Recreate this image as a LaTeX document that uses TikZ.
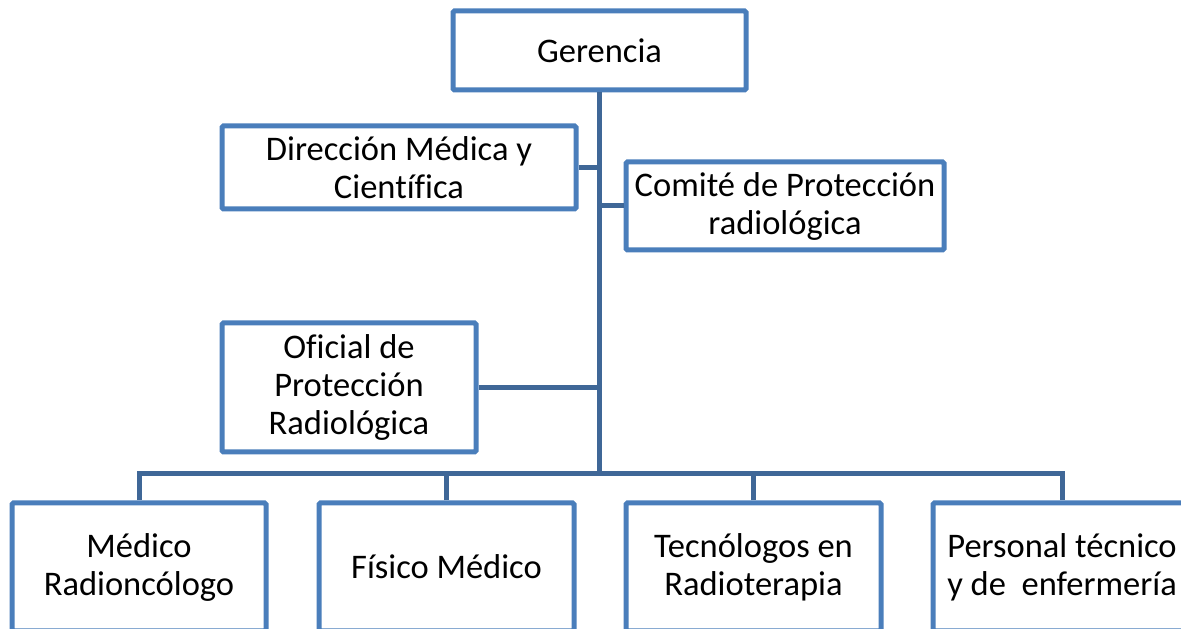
\documentclass[tikz,border=0pt]{standalone}
\usepackage{fontspec}
\setmainfont[Ligatures=NoCommon]{Carlito}
\definecolor{boxblue}{HTML}{4A7EBB}
\definecolor{lineblue}{HTML}{3F6797}
\begin{document}
\begin{tikzpicture}[x=1pt,y=1pt,
  orgbox/.style={draw=boxblue, line width=5pt, fill=white, rounded corners=1.5pt,
    inner sep=0pt, align=center, font=\fontsize{34.5}{38}\selectfont},
  conn/.style={draw=lineblue, line width=5pt}]
\useasboundingbox (0,0) rectangle (1181,629);
\clip (0,0) rectangle (1181,629);
\coordinate (bus) at (599.5,155);
\node[orgbox, minimum width=293, minimum height=79] (ger) at (599.5,578.5) {Gerencia};
\node[orgbox, minimum width=354, minimum height=83] (dir) at (399,461.5) {Dirección Médica y\\Científica};
\node[orgbox, minimum width=318, minimum height=88] (com) at (785,423) {Comité de Protección\\radiológica};
\node[orgbox, minimum width=254, minimum height=129] (ofi) at (349,241.5) {Oficial de\\Protección\\Radiológica};
\node[orgbox, minimum width=254, minimum height=128] (med) at (139,62) {Médico\\Radioncólogo};
\node[orgbox, minimum width=255, minimum height=128] (fis) at (446.5,62) {Físico Médico};
\node[orgbox, minimum width=255, minimum height=128] (tec) at (753.5,62) {Tecnólogos en\\Radioterapia};
\node[orgbox, minimum width=258, minimum height=128] (per) at (1062,62) {Personal técnico\\y de\ \ enfermería};
\path[conn] (ger.south) -- (bus);
\path[conn] (dir.east) -- (dir.east -| bus);
\path[conn] (com.west) -- (com.west -| bus);
\path[conn] (ofi.east) -- (ofi.east -| bus);
\path[conn] (med.north) |- (bus) -| (per.north);
\path[conn] (fis.north) -- (fis.north |- bus);
\path[conn] (tec.north) -- (tec.north |- bus);
\end{tikzpicture}
\end{document}
